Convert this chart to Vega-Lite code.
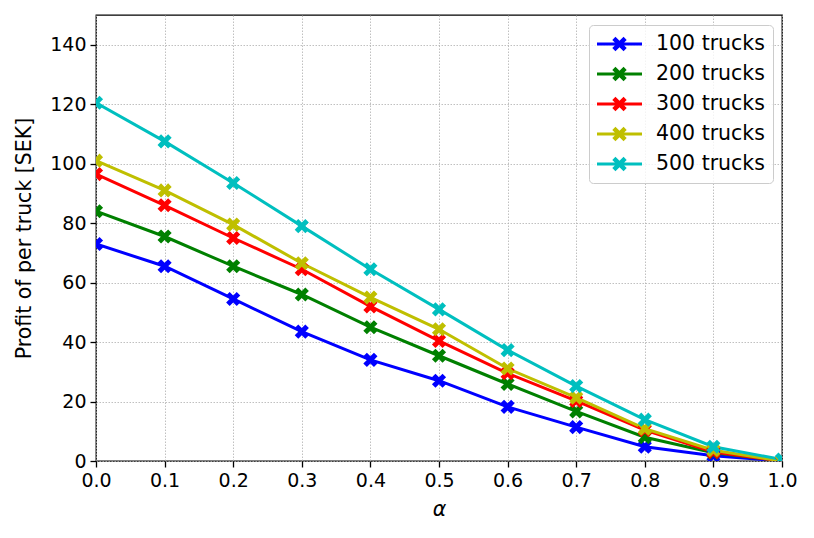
{
  "$schema": "https://vega.github.io/schema/vega-lite/v6.json",
  "width": 686,
  "height": 446,
  "autosize": {"type": "none"},
  "padding": {"left": 96, "top": 15, "right": 32, "bottom": 77},
  "background": "white",
  "config": {
    "font": "DejaVu Sans",
    "view": {"stroke": "black", "strokeWidth": 1.3},
    "axis": {
      "domain": false,
      "labelFont": "DejaVu Sans",
      "labelFontSize": 19,
      "labelColor": "black",
      "titleFont": "DejaVu Sans",
      "titleFontSize": 20.5,
      "titleFontWeight": "normal",
      "titleColor": "black",
      "tickColor": "black",
      "tickSize": 6,
      "tickWidth": 1.3,
      "labelPadding": 4,
      "grid": true,
      "gridColor": "#b0b0b0",
      "gridDash": [1.5, 1.5],
      "gridWidth": 0.8
    }
  },
  "data": {
    "values": [
      {"alpha": 0.0, "trucks": "100 trucks", "profit": 73},
      {"alpha": 0.1, "trucks": "100 trucks", "profit": 65.5},
      {"alpha": 0.2, "trucks": "100 trucks", "profit": 54.5},
      {"alpha": 0.3, "trucks": "100 trucks", "profit": 43.5},
      {"alpha": 0.4, "trucks": "100 trucks", "profit": 34},
      {"alpha": 0.5, "trucks": "100 trucks", "profit": 27},
      {"alpha": 0.6, "trucks": "100 trucks", "profit": 18.2},
      {"alpha": 0.7, "trucks": "100 trucks", "profit": 11.4},
      {"alpha": 0.8, "trucks": "100 trucks", "profit": 4.8},
      {"alpha": 0.9, "trucks": "100 trucks", "profit": 1.8},
      {"alpha": 1.0, "trucks": "100 trucks", "profit": 0},
      {"alpha": 0.0, "trucks": "200 trucks", "profit": 84},
      {"alpha": 0.1, "trucks": "200 trucks", "profit": 75.5},
      {"alpha": 0.2, "trucks": "200 trucks", "profit": 65.5},
      {"alpha": 0.3, "trucks": "200 trucks", "profit": 56},
      {"alpha": 0.4, "trucks": "200 trucks", "profit": 45},
      {"alpha": 0.5, "trucks": "200 trucks", "profit": 35.4},
      {"alpha": 0.6, "trucks": "200 trucks", "profit": 25.9},
      {"alpha": 0.7, "trucks": "200 trucks", "profit": 16.7},
      {"alpha": 0.8, "trucks": "200 trucks", "profit": 8},
      {"alpha": 0.9, "trucks": "200 trucks", "profit": 2.8},
      {"alpha": 1.0, "trucks": "200 trucks", "profit": 0},
      {"alpha": 0.0, "trucks": "300 trucks", "profit": 96.5},
      {"alpha": 0.1, "trucks": "300 trucks", "profit": 86},
      {"alpha": 0.2, "trucks": "300 trucks", "profit": 75},
      {"alpha": 0.3, "trucks": "300 trucks", "profit": 64.5},
      {"alpha": 0.4, "trucks": "300 trucks", "profit": 52},
      {"alpha": 0.5, "trucks": "300 trucks", "profit": 40.4},
      {"alpha": 0.6, "trucks": "300 trucks", "profit": 29.5},
      {"alpha": 0.7, "trucks": "300 trucks", "profit": 20.2},
      {"alpha": 0.8, "trucks": "300 trucks", "profit": 10.4},
      {"alpha": 0.9, "trucks": "300 trucks", "profit": 3},
      {"alpha": 1.0, "trucks": "300 trucks", "profit": 0},
      {"alpha": 0.0, "trucks": "400 trucks", "profit": 101},
      {"alpha": 0.1, "trucks": "400 trucks", "profit": 91},
      {"alpha": 0.2, "trucks": "400 trucks", "profit": 79.5},
      {"alpha": 0.3, "trucks": "400 trucks", "profit": 66.5},
      {"alpha": 0.4, "trucks": "400 trucks", "profit": 55},
      {"alpha": 0.5, "trucks": "400 trucks", "profit": 44.3},
      {"alpha": 0.6, "trucks": "400 trucks", "profit": 31.1},
      {"alpha": 0.7, "trucks": "400 trucks", "profit": 21.3},
      {"alpha": 0.8, "trucks": "400 trucks", "profit": 10.9},
      {"alpha": 0.9, "trucks": "400 trucks", "profit": 3.6},
      {"alpha": 1.0, "trucks": "400 trucks", "profit": 0},
      {"alpha": 0.0, "trucks": "500 trucks", "profit": 120.5},
      {"alpha": 0.1, "trucks": "500 trucks", "profit": 107.5},
      {"alpha": 0.2, "trucks": "500 trucks", "profit": 93.5},
      {"alpha": 0.3, "trucks": "500 trucks", "profit": 79},
      {"alpha": 0.4, "trucks": "500 trucks", "profit": 64.5},
      {"alpha": 0.5, "trucks": "500 trucks", "profit": 51},
      {"alpha": 0.6, "trucks": "500 trucks", "profit": 37.3},
      {"alpha": 0.7, "trucks": "500 trucks", "profit": 25.2},
      {"alpha": 0.8, "trucks": "500 trucks", "profit": 13.9},
      {"alpha": 0.9, "trucks": "500 trucks", "profit": 4.8},
      {"alpha": 1.0, "trucks": "500 trucks", "profit": 0.5}
    ]
  },
  "encoding": {
    "x": {
      "field": "alpha",
      "type": "quantitative",
      "title": "α",
      "scale": {"domain": [0, 1], "nice": false, "zero": false},
      "axis": {
        "values": [0, 0.1, 0.2, 0.3, 0.4, 0.5, 0.6, 0.7, 0.8, 0.9, 1.0],
        "format": ".1f",
        "labelFlush": false,
        "titleFontStyle": "italic",
        "titlePadding": 9
      }
    },
    "y": {
      "field": "profit",
      "type": "quantitative",
      "title": "Profit of per truck [SEK]",
      "scale": {"domain": [0, 150], "nice": false},
      "axis": {
        "values": [0, 20, 40, 60, 80, 100, 120, 140],
        "labelFlush": false,
        "titlePadding": 15
      }
    },
    "color": {
      "field": "trucks",
      "type": "nominal",
      "scale": {
        "domain": ["100 trucks", "200 trucks", "300 trucks", "400 trucks", "500 trucks"],
        "range": ["#0000ff", "#008000", "#ff0000", "#bfbf00", "#00bfbf"]
      },
      "legend": {
        "title": null,
        "orient": "none",
        "legendX": 493,
        "legendY": 10,
        "padding": 8,
        "strokeColor": "#cccccc",
        "fillColor": "rgba(255,255,255,0.8)",
        "cornerRadius": 4,
        "labelFontSize": 20.5,
        "labelColor": "black",
        "labelOffset": 14,
        "symbolSize": 2025,
        "symbolStrokeWidth": 0,
        "symbolType": "M-1,-0.067H1V0.067H-1Z M-0.32,-0.18L-0.18,-0.32L0,-0.14L0.18,-0.32L0.32,-0.18L0.14,0L0.32,0.18L0.18,0.32L0,0.14L-0.18,0.32L-0.32,0.18L-0.14,0Z",
        "clipHeight": 22,
        "rowPadding": 8,
        "encode": {
          "symbols": {
            "update": {
              "fill": {"scale": "color", "field": "value"},
              "fillOpacity": {"value": 1},
              "strokeWidth": {"value": 0}
            }
          }
        }
      }
    }
  },
  "layer": [
    {
      "mark": {"type": "line", "strokeWidth": 3, "clip": true}
    },
    {
      "mark": {
        "type": "point",
        "filled": true,
        "opacity": 1,
        "size": 200,
        "clip": true,
        "shape": "M-1,-0.5L-0.5,-1L0,-0.5L0.5,-1L1,-0.5L0.5,0L1,0.5L0.5,1L0,0.5L-0.5,1L-1,0.5L-0.5,0Z"
      }
    }
  ]
}
